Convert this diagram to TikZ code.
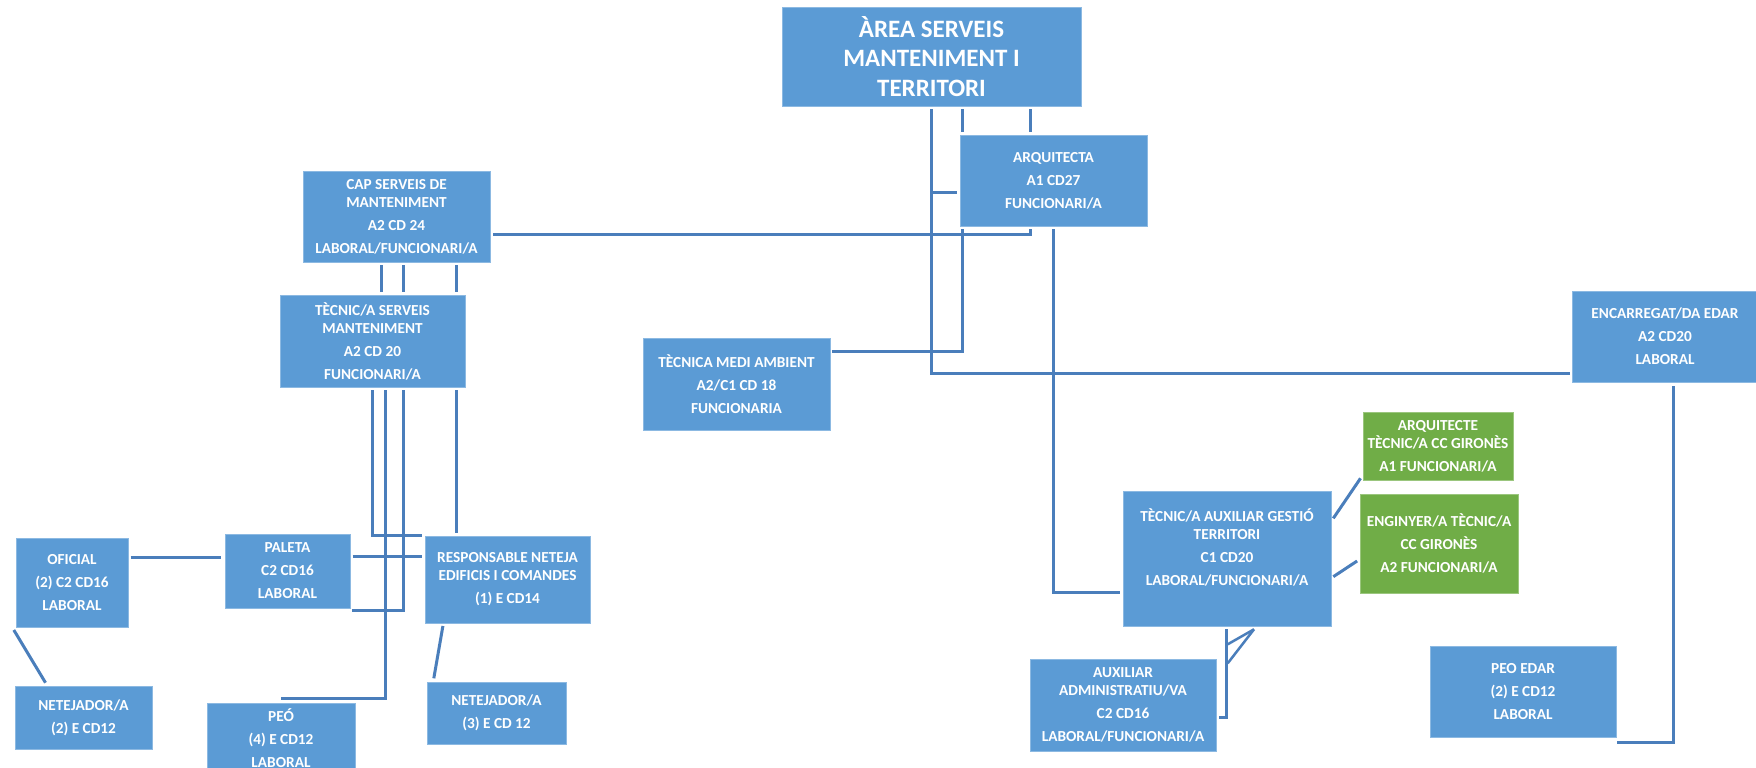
\documentclass[tikz,border=0pt]{standalone}
\usepackage{fontspec}
\setmainfont{Carlito}
\definecolor{boxblue}{RGB}{91,155,213}
\definecolor{boxgreen}{RGB}{112,173,71}
\definecolor{lineblue}{RGB}{74,126,187}
\tikzset{
  box/.style={fill=boxblue, draw=boxblue!70!white, line width=0.8pt, inner sep=0pt, outer sep=0pt,
    text=white, align=center, font=\bfseries\fontsize{15.3}{18}\selectfont},
  greenbox/.style={box, fill=boxgreen, draw=boxgreen!70!white},
  titlebox/.style={box, font=\bfseries\fontsize{25}{29.5}\selectfont},
  conn/.style={draw=lineblue, line width=3pt, line cap=butt, line join=miter},
  txt/.style={text=white, align=center, inner sep=0pt, font=\bfseries\fontsize{15.3}{18}\selectfont}
}
\newcommand{\orgbox}[7][]{%
  \pgfmathsetmacro\obw{#5-#3}\pgfmathsetmacro\obh{#6-#4}%
  \node[box,#1,minimum width=\obw pt,minimum height=\obh pt] (#2) at ({(#3+#5)/2},{(#4+#6)/2}) {#7};}
\begin{document}
\begin{tikzpicture}[x=1pt,y=-1pt]
\useasboundingbox (0,0) rectangle (1756,768);
\fill[white] (0,0) rectangle (1756,768);

% ---------- boxes ----------
\orgbox[titlebox]{area}{782}{7}{1081}{106}{ÀREA SERVEIS\\MANTENIMENT I\\TERRITORI}
\orgbox{arq}{960}{135}{1147}{226}{ARQUITECTA\\[5pt]A1 CD27\\[5pt]FUNCIONARI/A}
\orgbox{cap}{303}{171}{490}{262}{CAP SERVEIS DE\\MANTENIMENT\\[5pt]A2 CD 24\\[5pt]LABORAL/FUNCIONARI/A}
\orgbox{tecnic}{280}{295}{465}{387}{TÈCNIC/A SERVEIS\\MANTENIMENT\\[5pt]A2 CD 20\\[5pt]FUNCIONARI/A}
\orgbox{tma}{643}{338}{830}{430}{TÈCNICA MEDI AMBIENT\\[5pt]A2/C1 CD 18\\[5pt]FUNCIONARIA}
\orgbox{enc}{1572}{291}{1758}{382}{ENCARREGAT/DA EDAR\\[5pt]A2 CD20\\[5pt]LABORAL}
\orgbox[greenbox]{arqg}{1363}{412}{1513}{480}{ARQUITECTE\\TÈCNIC/A CC GIRONÈS\\[5pt]A1 FUNCIONARI/A}
\orgbox[greenbox]{engg}{1360}{494}{1518}{593}{ENGINYER/A TÈCNIC/A\\[5pt]CC GIRONÈS\\[5pt]A2 FUNCIONARI/A}
\orgbox{taaux}{1123}{491}{1331}{626}{}
\node[txt] (taauxtext) at (1227,547) {TÈCNIC/A AUXILIAR GESTIÓ\\TERRITORI\\[5pt]C1 CD20\\[5pt]LABORAL/FUNCIONARI/A};
\orgbox{auxadm}{1030}{659}{1216}{751}{AUXILIAR\\ADMINISTRATIU/VA\\[5pt]C2 CD16\\[5pt]LABORAL/FUNCIONARI/A}
\orgbox{peoedar}{1430}{646}{1616}{737}{PEO EDAR\\[5pt](2) E CD12\\[5pt]LABORAL}
\orgbox{oficial}{16}{538}{128}{627}{OFICIAL\\[5pt](2) C2 CD16\\[5pt]LABORAL}
\orgbox{paleta}{225}{534}{350}{608}{PALETA\\[5pt]C2 CD16\\[5pt]LABORAL}
\orgbox{resp}{425}{536}{590}{623}{RESPONSABLE NETEJA\\EDIFICIS I COMANDES\\[5pt](1) E CD14}
\orgbox{net2}{15}{686}{152}{749}{NETEJADOR/A\\[5pt](2) E CD12}
\orgbox{peo}{207}{703}{355}{773}{PEÓ\\[5pt](4) E CD12\\[5pt]LABORAL}
\orgbox{net3}{427}{682}{566}{744}{NETEJADOR/A\\[5pt](3) E CD 12}

% ---------- connectors ----------
\coordinate (jEnc) at (931,373);
\coordinate (jArqL) at (931,192);
\coordinate (jTma) at (962.5,351);
\coordinate (jCap) at (1030,234);
\coordinate (jTa) at (1053.5,592);
% from area
\draw[conn] ([yshift=-3pt]area.south -| jEnc) -- (jEnc) -- ([xshift=-2pt]enc.west |- jEnc);
\draw[conn] (jArqL) -- ([xshift=-3pt]arq.west |- jArqL);
\draw[conn] ([yshift=-3pt]area.south -| jTma) -- ([yshift=3pt]arq.north -| jTma);
\draw[conn] ([yshift=-3pt]area.south -| jCap) -- ([yshift=3pt]arq.north -| jCap);
% below arquitecta
\draw[conn] ([yshift=-3pt]arq.south -| jTma) -- (jTma) -- ([xshift=2pt]tma.east |- jTma);
\draw[conn] ([yshift=-3pt]arq.south -| jCap) -- (jCap) -- ([xshift=2.5pt]cap.east |- jCap);
\draw[conn] ([yshift=-3pt]arq.south -| jTa) -- (jTa) -- ([xshift=-3.5pt]taaux.west |- jTa);
% cap -> tecnic
\foreach \xx in {381.6,403.6,456} {
  \draw[conn] ([yshift=-3pt]cap.south -| \xx,0) -- ([yshift=3pt]tecnic.north -| \xx,0);
}
% tecnic -> lower left
\coordinate (jR1) at (372.3,535);
\coordinate (jPeo) at (385,698.3);
\coordinate (jPal) at (403.3,610);
\draw[conn] ([yshift=-3pt]tecnic.south -| jR1) -- (jR1) -- ([xshift=-2.7pt]resp.west |- jR1);
\draw[conn] ([yshift=-3pt]tecnic.south -| jPeo) -- (jPeo) -- (peo.north |- jPeo);
\draw[conn] ([yshift=-3pt]tecnic.south -| jPal) -- (jPal) -- ([xshift=2pt]paleta.east |- jPal);
\draw[conn] ([yshift=-3pt]tecnic.south -| 456,0) -- ([yshift=2.7pt]resp.north -| 456,0);
% horizontal links
\draw[conn] ([xshift=2.7pt]paleta.east |- 0,556.7) -- ([xshift=-2.7pt]resp.west |- 0,556.7);
\draw[conn] ([xshift=2.5pt]oficial.east |- 0,557.3) -- ([xshift=-3.6pt]paleta.west |- 0,557.3);
% diagonals
\draw[conn] ([xshift=-2.2pt,yshift=-3pt]oficial.south west) -- ([xshift=30.5pt,yshift=3.3pt]net2.north west);
\draw[conn] ([xshift=17.9pt,yshift=-3pt]resp.south west) -- ([xshift=6.8pt,yshift=3.7pt]net3.north west);
% encarregat -> peo edar
\coordinate (jEdar) at (1673.3,742);
\draw[conn] ([yshift=-4pt]enc.south -| jEdar) -- (jEdar) -- ([xshift=1.3pt]peoedar.east |- jEdar);
% tecnic aux -> green
\draw[conn] ([xshift=2.3pt]taaux.east |- 0,518.3) -- ([xshift=-2.5pt]arqg.west |- 0,478.3);
\draw[conn] ([xshift=2.3pt]taaux.east |- 0,576.7) -- ([xshift=-2.9pt]engg.west |- 0,561);
% tecnic aux -> auxiliar administratiu
\coordinate (jAux) at (1226.7,717.3);
\coordinate (jDiag) at (1254,629.3);
\draw[conn] ([yshift=-3.3pt]taaux.south -| jAux) -- (jAux) -- ([xshift=3.3pt]auxadm.east |- jAux);
\draw[conn, line width=2.5pt] (jDiag) -- (1227.7,644.3);
\draw[conn, line width=2.5pt] (jDiag) -- (1227.7,663.3);
\end{tikzpicture}
\end{document}
